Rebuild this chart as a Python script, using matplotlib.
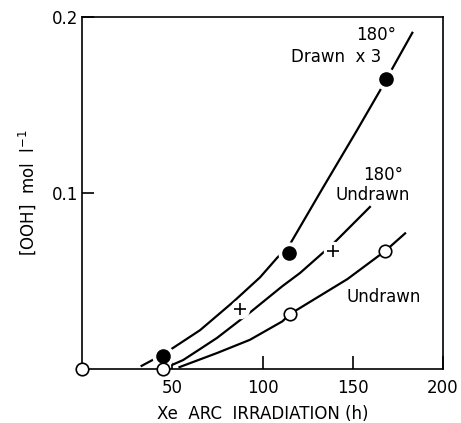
import matplotlib
matplotlib.use("Agg")
import matplotlib.pyplot as plt

# measured points
drawn_x = [45, 114.7, 168.4]
drawn_y = [0.0074, 0.066, 0.165]
und180_x = [87.5, 139]
und180_y = [0.034, 0.067]
und_x = [0, 45, 115, 168]
und_y = [0.0, 0.0, 0.031, 0.067]

# fitted curves
drawn_cx = [33, 39, 48.8, 65.4, 83.7, 98.6, 108, 115, 133.5, 152, 165, 183]
drawn_cy = [0.0017, 0.005, 0.0108, 0.022, 0.038, 0.052, 0.063, 0.0705, 0.103, 0.135, 0.158, 0.191]
und180_cx = [50, 56, 65, 74.8, 93, 111, 120.8, 133.5, 141, 159.5]
und180_cy = [0.0023, 0.005, 0.011, 0.0176, 0.032, 0.047, 0.0545, 0.066, 0.073, 0.092]
und_cx = [54, 74.8, 93, 111, 115, 147, 168, 179]
und_cy = [0.001, 0.009, 0.0165, 0.027, 0.031, 0.051, 0.067, 0.077]

xticks = [50, 100, 150, 200]
yticks = [0.1, 0.2]

fig = plt.figure(figsize=(4.61, 4.23), dpi=100)
ax = fig.add_axes([0.178, 0.128, 0.783, 0.832])

lw = 1.6
ax.plot(drawn_cx, drawn_cy, color="black", lw=lw, zorder=2, solid_joinstyle="round")
ax.plot(und180_cx, und180_cy, color="black", lw=lw, zorder=2, solid_joinstyle="round")
ax.plot(und_cx, und_cy, color="black", lw=lw, zorder=2, solid_joinstyle="round")

# white halos make the gaps around the symbols
ax.plot(drawn_x, drawn_y, "o", color="white", ms=15, zorder=3, clip_on=False)
ax.plot(und180_x, und180_y, "o", color="white", ms=13, zorder=3)

ax.plot(drawn_x, drawn_y, "o", color="black", ms=9.5, zorder=4, clip_on=False)
ax.plot(und180_x, und180_y, "+", color="black", ms=8.5, mew=1.2, zorder=4)
ax.plot(und_x, und_y, "o", mfc="white", mec="black", mew=1.2, ms=9,
        zorder=4, clip_on=False)

fs = 12
ax.text(163, 0.190, "180°", ha="center", va="center", fontsize=fs)
ax.text(141, 0.177, "Drawn  x 3", ha="center", va="center", fontsize=fs)
ax.text(167, 0.110, "180°", ha="center", va="center", fontsize=fs)
ax.text(161, 0.099, "Undrawn", ha="center", va="center", fontsize=fs)
ax.text(167, 0.041, "Undrawn", ha="center", va="center", fontsize=fs)

ax.set_xlim(0, 200)
ax.set_ylim(0, 0.2)
ax.set_xticks(xticks)
ax.set_xticklabels([str(t) for t in xticks])
ax.set_yticks(yticks)
ax.set_yticklabels([f"{t:.1f}" for t in yticks])
ax.tick_params(axis="x", direction="in", length=9.5, width=1.2, pad=7, labelsize=12)
ax.tick_params(axis="y", direction="in", length=8.5, width=1.2, pad=3, labelsize=12)
for s in ax.spines.values():
    s.set_linewidth(1.2)

ax.set_xlabel("Xe  ARC  IRRADIATION (h)", fontsize=12, labelpad=6)
ax.set_ylabel("[OOH]  mol  l$^{-1}$", fontsize=12, labelpad=10)

fig.savefig("out.png", dpi=100)
